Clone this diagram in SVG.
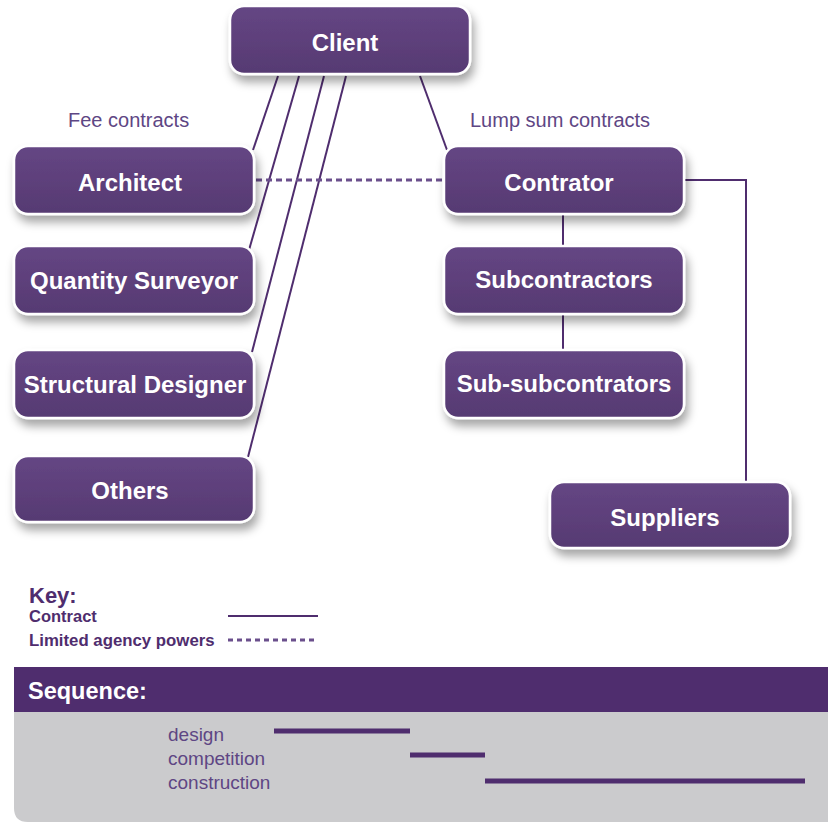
<svg xmlns="http://www.w3.org/2000/svg" width="828" height="826" viewBox="0 0 828 826">
<defs>
<linearGradient id="boxg" x1="0" y1="0" x2="0" y2="1">
<stop offset="0" stop-color="#654684"/>
<stop offset="1" stop-color="#563a72"/>
</linearGradient>
<filter id="sh" x="-20%" y="-30%" width="150%" height="180%">
<feDropShadow dx="3" dy="7" stdDeviation="5" flood-color="#000" flood-opacity="0.35"/>
</filter>
</defs>
<style>
.box{fill:url(#boxg);stroke:#ffffff;stroke-width:2.5;filter:url(#sh)}
.lbl{font-family:"Liberation Sans",Arial,sans-serif;font-weight:bold;font-size:24px;fill:#ffffff;text-anchor:middle}
.con{stroke:#4f2d6e;stroke-width:2;fill:none}
.dash{stroke:#6a4f8c;stroke-width:3;stroke-dasharray:6 4;fill:none}
.cap{font-family:"Liberation Sans",Arial,sans-serif;font-size:20px;fill:#5e4684}
.key{font-family:"Liberation Sans",Arial,sans-serif;font-weight:bold;fill:#4f2d6e}
.seq{font-family:"Liberation Sans",Arial,sans-serif;font-size:19px;fill:#5e4684}
.bar{stroke:#4f2d6e;stroke-width:5}
</style>
<rect width="828" height="826" fill="#ffffff"/>
<g id="connectors">
<line class="con" x1="278" y1="76" x2="253" y2="150"/>
<line class="con" x1="299" y1="76" x2="249" y2="250"/>
<line class="con" x1="324" y1="76" x2="252" y2="352"/>
<line class="con" x1="346" y1="76" x2="248" y2="457"/>
<line class="con" x1="420" y1="76" x2="447" y2="150"/>
<line class="dash" x1="256" y1="180" x2="444" y2="180"/>
<line class="con" x1="563" y1="214" x2="563" y2="246"/>
<line class="con" x1="563" y1="314" x2="563" y2="350"/>
<polyline class="con" points="684,180 746,180 746,482"/>
</g>
<g id="client"><rect class="box" x="230" y="6" width="240" height="68" rx="14"/><text class="lbl" x="345" y="51">Client</text></g>
<g id="architect"><rect class="box" x="14" y="146" width="240" height="68" rx="14"/><text class="lbl" x="130" y="191">Architect</text></g>
<g id="qs"><rect class="box" x="14" y="246" width="240" height="68" rx="14"/><text class="lbl" x="134" y="289">Quantity Surveyor</text></g>
<g id="sd"><rect class="box" x="14" y="350" width="240" height="68" rx="14"/><text class="lbl" x="135" y="393">Structural Designer</text></g>
<g id="others"><rect class="box" x="14" y="456" width="240" height="66" rx="14"/><text class="lbl" x="130" y="499">Others</text></g>
<g id="contrator"><rect class="box" x="444" y="146" width="240" height="68" rx="14"/><text class="lbl" x="559" y="191">Contrator</text></g>
<g id="subcontractors"><rect class="box" x="444" y="246" width="240" height="68" rx="14"/><text class="lbl" x="564" y="288">Subcontractors</text></g>
<g id="subsub"><rect class="box" x="444" y="350" width="240" height="68" rx="14"/><text class="lbl" x="564" y="392">Sub-subcontrators</text></g>
<g id="suppliers"><rect class="box" x="550" y="482" width="240" height="66" rx="14"/><text class="lbl" x="665" y="526">Suppliers</text></g>
<text class="cap" x="68" y="127">Fee contracts</text>
<text class="cap" x="470" y="127">Lump sum contracts</text>
<g id="key">
<text class="key" x="29" y="603" font-size="22">Key:</text>
<text class="key" x="29" y="622" font-size="16.5">Contract</text>
<text class="key" x="29" y="646" font-size="16.8">Limited agency powers</text>
<line class="con" x1="228" y1="616" x2="318" y2="616"/>
<line x1="228" y1="640" x2="318" y2="640" stroke="#6a4f8c" stroke-width="3" stroke-dasharray="5 4"/>
</g>
<g id="sequence">
<path d="M14 712 H828 V822 H28 Q14 822 14 808 Z" fill="#cbcbcd"/>
<rect x="14" y="667" width="814" height="45" fill="#4f2d6e"/>
<text x="28" y="699" font-family="'Liberation Sans',Arial,sans-serif" font-size="23.5" font-weight="bold" fill="#ffffff">Sequence:</text>
<text class="seq" x="168" y="741">design</text>
<text class="seq" x="168" y="765">competition</text>
<text class="seq" x="168" y="789">construction</text>
<line class="bar" x1="274" y1="731" x2="410" y2="731"/>
<line class="bar" x1="410" y1="755" x2="485" y2="755"/>
<line class="bar" x1="485" y1="781" x2="805" y2="781"/>
</g>
</svg>
